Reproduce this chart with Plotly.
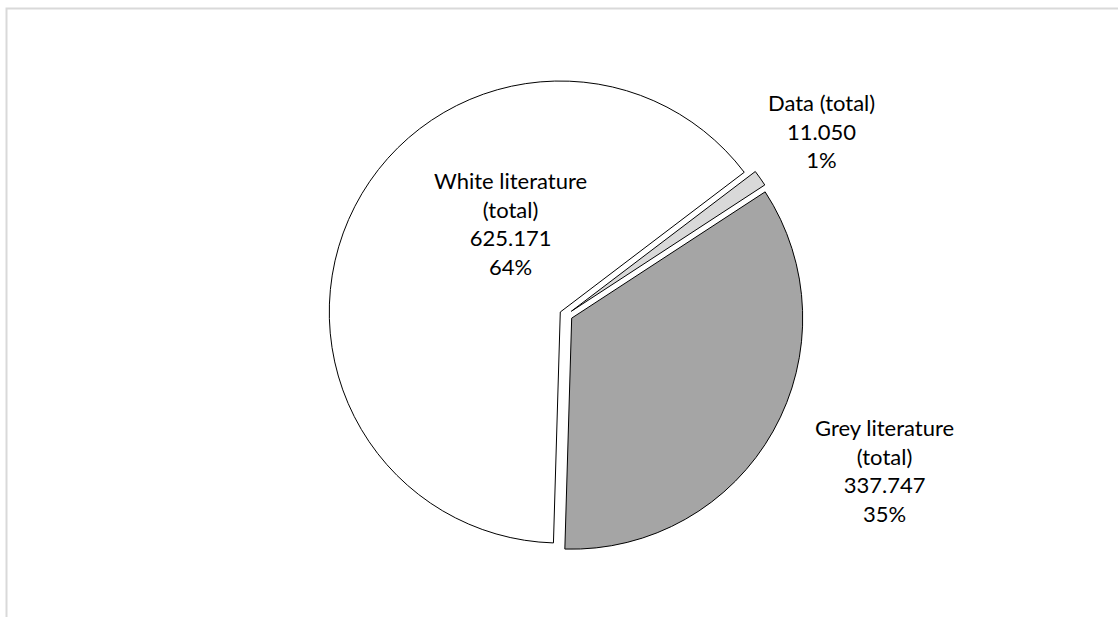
import plotly.graph_objects as go

# Publication counts by type (thousands)
categories = ["White literature (total)", "Data (total)", "Grey literature (total)"]
label_lines = ["White literature<br>(total)", "Data (total)", "Grey literature<br>(total)"]
values = [625.171, 11.050, 337.747]
slice_colors = ["#ffffff", "#d9d9d9", "#a5a5a5"]

W, H = 1118, 617
total = sum(values)

fig = go.Figure(
    go.Pie(
        labels=categories,
        values=values,
        sort=False,
        direction="clockwise",
        rotation=181.7,
        pull=[0.028, 0.028, 0.028],
        marker=dict(colors=slice_colors, line=dict(color="#000000", width=1)),
        textinfo="none",
        hoverinfo="label+value+percent",
        showlegend=False,
        domain=dict(x=[0.2063, 0.8063], y=[0.1046, 0.8744]),
    )
)

# Data labels: name, value and share
label_pos = [(510, 223), (821, 131), (884, 470)]
for text, v, (px, py) in zip(label_lines, values, label_pos):
    pct = v / total * 100
    fig.add_annotation(
        x=px / W, y=1 - py / H, xref="paper", yref="paper",
        text=f"{text}<br>{v:.3f}<br>{pct:.0f}%",
        showarrow=False, align="center", xanchor="center", yanchor="middle",
        font=dict(family="Lato", size=22, color="#000000"),
    )

# Chart-area border
fig.add_shape(
    type="rect", xref="paper", yref="paper",
    x0=6.5 / W, x1=1.05, y0=-0.05, y1=1 - 8.5 / H,
    line=dict(color="#d9d9d9", width=2), fillcolor="rgba(0,0,0,0)",
)

fig.update_layout(
    width=W, height=H,
    margin=dict(l=0, r=0, t=0, b=0),
    paper_bgcolor="#ffffff",
    plot_bgcolor="#ffffff",
)

fig.write_html("out.html")
